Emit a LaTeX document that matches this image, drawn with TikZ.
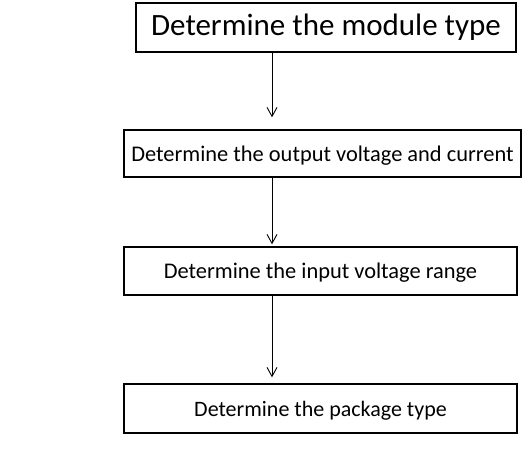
\documentclass[tikz,border=0pt]{standalone}
\usepackage{fontspec}
\setmainfont{Carlito}
\usetikzlibrary{arrows.meta}
\tikzstyle{stepbox}=[draw, line width=1.4pt, inner sep=0pt, align=center]
\tikzstyle{flow}=[line width=0.9pt, -{Straight Barb[length=9pt, width=10pt]}]

\begin{document}
\begin{tikzpicture}[x=1pt, y=1pt]
          \useasboundingbox (0, 0) rectangle (530, -472);
          \node[stepbox, minimum width=380, minimum height=49, font=\fontsize{31}{34}\selectfont]
            (module) at (326, -27.5) {Determine the module type};
          \node[stepbox, minimum width=397, minimum height=47, text depth=0pt, font=\fontsize{22.4}{26}\selectfont]
            (output) at (322.5, -153.5) {Determine the output voltage and current};
          \node[stepbox, minimum width=393, minimum height=48, text depth=0pt, font=\fontsize{22.4}{26}\selectfont]
            (input) at (320.5, -271) {Determine the input voltage range};
          \node[stepbox, minimum width=393, minimum height=49, text depth=0pt, font=\fontsize{22}{26}\selectfont]
            (package) at (320.5, -408.5) {Determine the package type};
          \coordinate (axis) at (272, 0);
          \draw[flow, shorten >=12pt] (module.south -| axis) -- (output.north -| axis);
          \draw[flow, shorten >=2pt] (output.south -| axis) -- (input.north -| axis);
          \draw[flow, shorten >=6pt] (input.south -| axis) -- (package.north -| axis);
        \end{tikzpicture}
\end{document}
